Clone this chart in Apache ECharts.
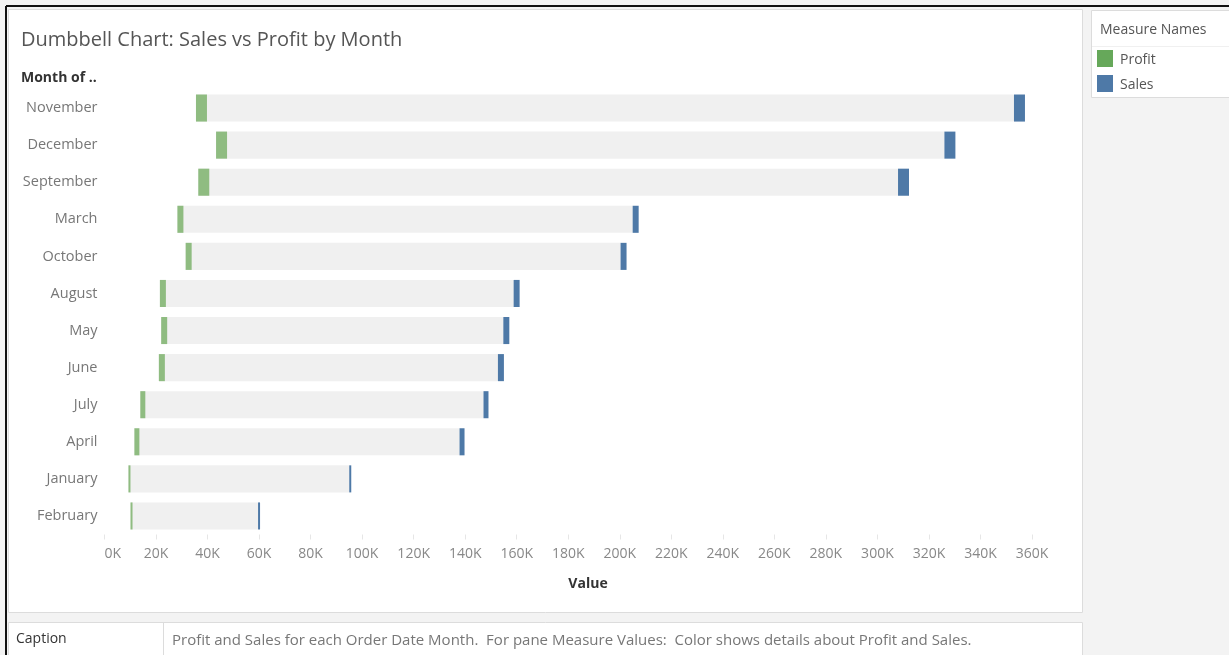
<!DOCTYPE html>
<html>
<head>
<meta charset="utf-8">
<script src="https://cdn.jsdelivr.net/npm/echarts@6/dist/echarts.min.js"></script>
<style>
html,body{margin:0;padding:0;background:#f3f3f3;}
#c{width:1229px;height:655px;}
</style>
</head>
<body>
<div id="c"></div>
<script>
// Data (values in thousands)
const months = ['November','December','September','March','October','August','May','June','July','April','January','February'];
const profit = [35.5, 43.3, 36.4, 28.3, 31.5, 21.5, 22.0, 21.1, 13.9, 11.6, 9.3, 10.1];
const sales  = [353.0, 326.0, 308.0, 205.0, 200.3, 158.8, 154.8, 152.7, 147.1, 137.8, 95.0, 59.6];
const markSize = [11, 11, 11, 6, 6, 6, 6, 6, 5, 5, 2, 2];
const xTicks = {min: 0, max: 360, interval: 20};

const FONT = '"Open Sans", sans-serif';
const chart = echarts.init(document.getElementById('c'));

const seriesData = months.map((m, i) => [i, profit[i], sales[i], markSize[i]]);

const option = {
  animation: false,
  backgroundColor: '#f3f3f3',
  graphic: [
    // main panel
    {type:'rect', z:-10, shape:{x:8.5,y:9.5,width:1074,height:603}, style:{fill:'#fff',stroke:'#dcdcdc',lineWidth:1}},
    // caption panel
    {type:'rect', z:-10, shape:{x:8.5,y:622.5,width:1074,height:40}, style:{fill:'#fff',stroke:'#dcdcdc',lineWidth:1}},
    {type:'line', z:-9, shape:{x1:163.5,y1:622,x2:163.5,y2:660}, style:{stroke:'#dcdcdc',lineWidth:1}},
    // legend box
    {type:'rect', z:-10, shape:{x:1091.5,y:10.5,width:150,height:87}, style:{fill:'#fff',stroke:'#dcdcdc',lineWidth:1}},
    {type:'line', z:-9, shape:{x1:1092,y1:46.5,x2:1229,y2:46.5}, style:{stroke:'#f0f0f0',lineWidth:1}},
    // black frame
    {type:'line', z:10, shape:{x1:6,y1:6,x2:1229,y2:6}, style:{stroke:'#111',lineWidth:2}},
    {type:'line', z:10, shape:{x1:6,y1:6,x2:6,y2:655}, style:{stroke:'#111',lineWidth:2}},
    // title
    {type:'text', x:21, y:40, style:{text:'Dumbbell Chart: Sales vs Profit by Month', fill:'#555', font:'20px '+FONT, textVerticalAlign:'middle'}},
    {type:'text', x:21, y:78, style:{text:'Month of ..', fill:'#333', font:'bold 14px '+FONT, textVerticalAlign:'middle'}},
    // x axis title
    {type:'text', x:588, y:584, style:{text:'Value', fill:'#333', font:'bold 14px '+FONT, textAlign:'center', textVerticalAlign:'middle'}},
    // legend
    {type:'text', x:1100, y:30, style:{text:'Measure Names', fill:'#555', font:'14px '+FONT, textVerticalAlign:'middle'}},
    {type:'rect', shape:{x:1097,y:50,width:16,height:17}, style:{fill:'#66a85a'}},
    {type:'text', x:1120, y:60, style:{text:'Profit', fill:'#555', font:'14px '+FONT, textVerticalAlign:'middle'}},
    {type:'rect', shape:{x:1097,y:75,width:16,height:17}, style:{fill:'#4e79a7'}},
    {type:'text', x:1120, y:85, style:{text:'Sales', fill:'#555', font:'14px '+FONT, textVerticalAlign:'middle'}},
    // caption
    {type:'text', x:16, y:639, style:{text:'Caption', fill:'#333', font:'14px '+FONT, textVerticalAlign:'middle'}},
    {type:'text', x:172, y:641, style:{text:'Profit and Sales for each Order Date Month.  For pane Measure Values:  Color shows details about Profit and Sales.', fill:'#777', font:'15px '+FONT, textVerticalAlign:'middle'}}
  ],
  grid: {left:104.5, top:89.5, width:927.5, height:445, containLabel:false},
  xAxis: {
    type:'value', min:xTicks.min, max:xTicks.max, interval:xTicks.interval,
    axisLine:{show:false},
    axisTick:{show:true, length:5, lineStyle:{color:'#e6e6e6'}},
    splitLine:{show:false},
    axisLabel:{color:'#888', fontSize:14, fontFamily:FONT, margin:13, alignMinLabel:'left',
      formatter: v => v + 'K'}
  },
  yAxis: {
    type:'category', data:months, inverse:true,
    axisLine:{show:false}, axisTick:{show:false}, splitLine:{show:false},
    axisLabel:{color:'#777', fontSize:14.5, fontFamily:FONT, margin:7, padding:[2,0,0,0]}
  },
  series: [{
    type:'custom',
    data: seriesData,
    encode:{x:[1,2], y:0},
    renderItem: function(params, api){
      const idx = api.value(0);
      const p = api.coord([api.value(1), idx]);
      const s = api.coord([api.value(2), idx]);
      const w = api.value(3);
      const h = api.size([0,1])[1] * 0.73;
      const y = p[1] - h/2;
      return {type:'group', children:[
        {type:'rect', shape:{x:p[0], y:y, width:s[0]-p[0], height:h}, style:{fill:'#f0f0f0'}},
        {type:'rect', shape:{x:p[0], y:y, width:w, height:h}, style:{fill:'#8fbc81'}},
        {type:'rect', shape:{x:s[0], y:y, width:w, height:h}, style:{fill:'#4e79a7'}}
      ]};
    }
  }]
};
chart.setOption(option);
</script>
</body>
</html>
